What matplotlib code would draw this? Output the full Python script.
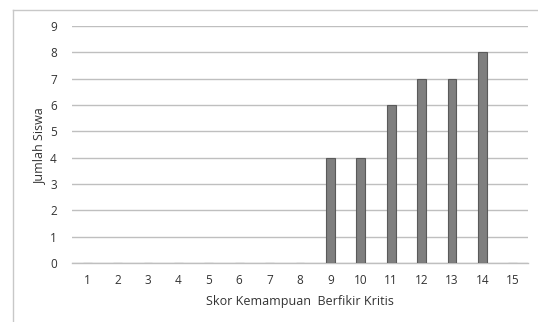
import matplotlib
matplotlib.use("Agg")
import matplotlib.pyplot as plt
from matplotlib.lines import Line2D

scores = [str(i) for i in range(1, 16)]
students = [0, 0, 0, 0, 0, 0, 0, 0, 4, 4, 6, 7, 7, 8, 0]
y_ticks = list(range(0, 10))

W, H = 538, 322
fig = plt.figure(figsize=(W / 100, H / 100), dpi=100)
fig.patch.set_facecolor("white")

left, right = 72 / W, 528 / W
bottom, top = 1 - 263 / H, 1 - 26 / H
ax = fig.add_axes([left, bottom, right - left, top - bottom])

x = list(range(len(scores)))
ax.bar(x, students, width=0.29, color="#7f7f7f", edgecolor="#5a5a5a", linewidth=0.8, zorder=3)

ax.set_xlim(-0.5, len(scores) - 0.5)
ax.set_ylim(0, 9)
ax.set_yticks(y_ticks)
ax.set_xticks(x)
ax.set_xticklabels(scores)
ax.yaxis.grid(True, color="#bfbfbf", linewidth=1.0, zorder=0)
ax.xaxis.grid(False)
for s in ["top", "right", "left"]:
    ax.spines[s].set_visible(False)
ax.spines["bottom"].set_color("#bfbfbf")
ax.spines["bottom"].set_linewidth(1.0)
ax.tick_params(axis="both", length=0, labelsize=8.5, labelcolor="#333333")
ax.tick_params(axis="x", pad=8)
ax.tick_params(axis="y", pad=11)
for lab in ax.get_xticklabels() + ax.get_yticklabels():
    lab.set_family("Open Sans")

ax.set_xlabel("Skor Kemampuan  Berfikir Kritis", fontsize=9, color="#333333",
              family="Open Sans", labelpad=6)
ax.set_ylabel("Jumlah Siswa", fontsize=9, color="#333333", family="Open Sans")
ax.yaxis.set_label_coords(-0.057, 0.49)

# chart frame
fig.add_artist(Line2D([13 / W, 13 / W], [0, 1 - 10 / H], transform=fig.transFigure,
                      color="#c8c8c8", linewidth=1.0))
fig.add_artist(Line2D([13 / W, 1], [1 - 10 / H, 1 - 10 / H], transform=fig.transFigure,
                      color="#c8c8c8", linewidth=1.0))

fig.savefig("out.png", dpi=100, facecolor="white")
